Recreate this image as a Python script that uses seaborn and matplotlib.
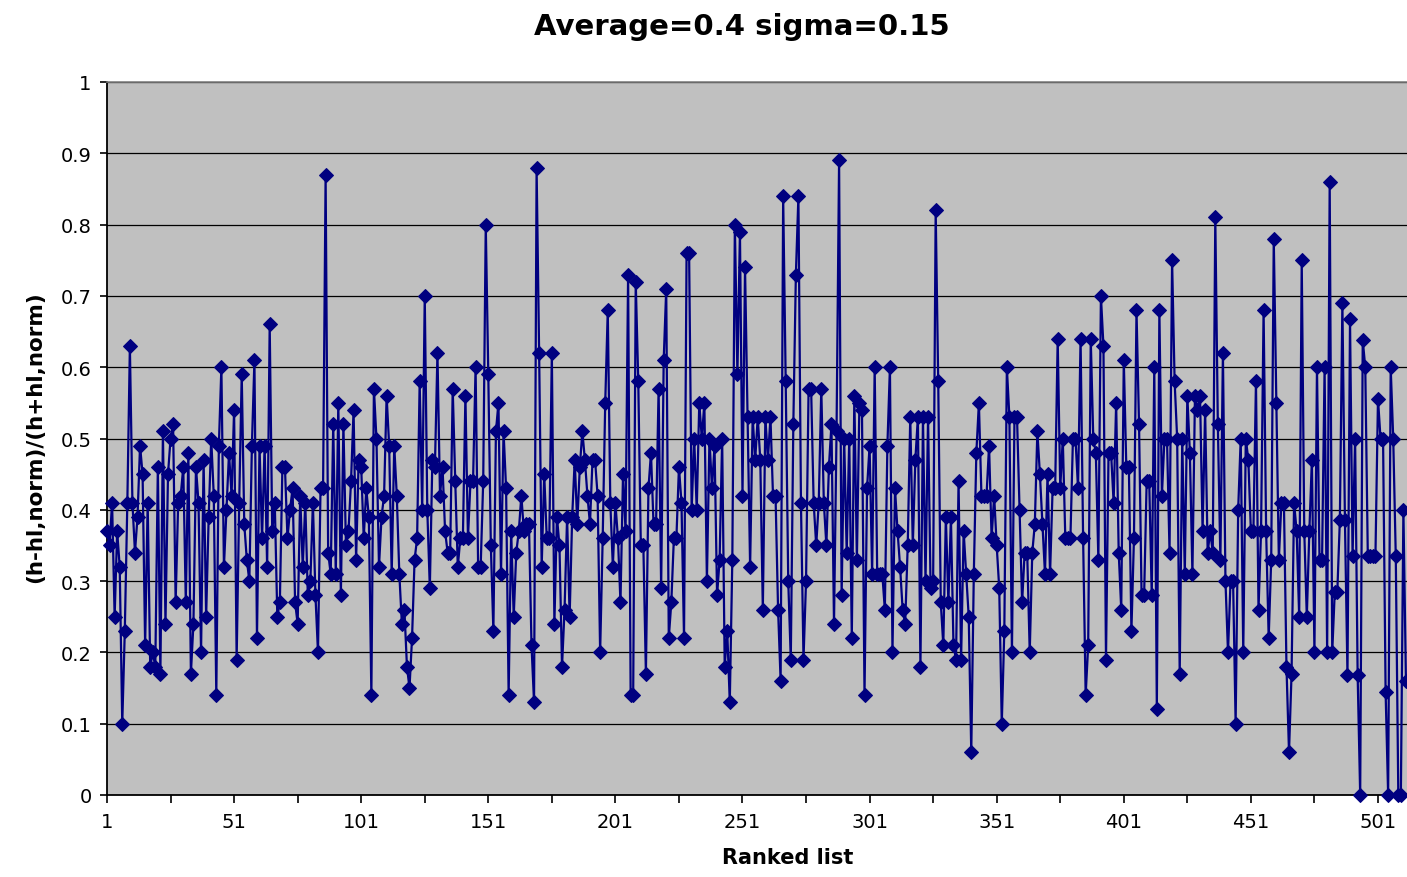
import numpy as np
import matplotlib
matplotlib.use("Agg")
import matplotlib.pyplot as plt
import seaborn as sns
from matplotlib.ticker import FixedLocator, FuncFormatter

seg_a = [0.37, 0.35, 0.41, 0.25, 0.37, 0.32, 0.10, 0.23, 0.41, 0.63,
         0.41, 0.34, 0.39, 0.49, 0.45, 0.21, 0.41, 0.18, 0.20, 0.18,
         0.46, 0.17, 0.51, 0.24, 0.45, 0.50, 0.52, 0.27, 0.41, 0.42,
         0.46, 0.27, 0.48, 0.17, 0.24, 0.46, 0.41]
seg_b = [0.20, 0.47, 0.25, 0.39, 0.50, 0.42, 0.14, 0.49, 0.60, 0.32,
         0.40, 0.48, 0.42, 0.54, 0.19, 0.41, 0.59, 0.38, 0.33, 0.30,
         0.49, 0.61, 0.22, 0.49, 0.36, 0.49, 0.32, 0.66, 0.37, 0.41,
         0.25, 0.27, 0.46, 0.46, 0.36, 0.40, 0.43, 0.27, 0.24, 0.42]
seg_c = [0.32, 0.41, 0.28, 0.30, 0.41, 0.28, 0.20, 0.43, 0.43, 0.87,
         0.34, 0.31, 0.52, 0.31, 0.55, 0.28, 0.52, 0.35, 0.37, 0.44,
         0.54, 0.33, 0.47, 0.46, 0.36, 0.43, 0.39, 0.14, 0.57, 0.50,
         0.32, 0.39, 0.42, 0.56, 0.49, 0.31, 0.49, 0.42, 0.31]
seg_d = [0.24, 0.26, 0.18, 0.15, 0.22, 0.33, 0.36, 0.58, 0.40, 0.70,
         0.40, 0.29, 0.47, 0.46, 0.62, 0.42, 0.46, 0.37, 0.34, 0.34,
         0.57, 0.44, 0.32, 0.36, 0.36, 0.56, 0.36, 0.44, 0.44, 0.60,
         0.32, 0.32, 0.44, 0.80, 0.59, 0.35, 0.23, 0.51, 0.55, 0.31]
seg_e = [0.51, 0.43, 0.14, 0.37, 0.25, 0.34, 0.37, 0.42, 0.37, 0.38,
         0.38, 0.21, 0.13, 0.88, 0.62, 0.32, 0.45, 0.36, 0.36, 0.62,
         0.24, 0.39, 0.35, 0.18, 0.26, 0.39, 0.25, 0.39, 0.47, 0.38,
         0.46, 0.51, 0.47, 0.42, 0.38, 0.47, 0.47, 0.42, 0.20]
seg_f = [0.36, 0.55, 0.68, 0.41, 0.32, 0.41, 0.36, 0.27, 0.45, 0.37,
         0.73, 0.14, 0.14, 0.72, 0.58, 0.35, 0.35, 0.17, 0.43, 0.48,
         0.38, 0.38, 0.57, 0.29, 0.61, 0.71, 0.22, 0.27, 0.36, 0.36,
         0.46, 0.41, 0.22, 0.76, 0.76, 0.40, 0.50, 0.40, 0.55]
seg_g = [0.50, 0.55, 0.30, 0.50, 0.43, 0.49, 0.28, 0.33, 0.50, 0.18,
         0.23, 0.13, 0.33, 0.80, 0.59, 0.79, 0.42, 0.74, 0.53, 0.32,
         0.53, 0.47, 0.53, 0.47, 0.26, 0.53, 0.47, 0.53, 0.42, 0.42,
         0.26, 0.16, 0.84, 0.58, 0.30, 0.19, 0.52, 0.73, 0.84, 0.41]
seg_h = [0.19, 0.30, 0.57, 0.57, 0.41, 0.35, 0.41, 0.57, 0.41, 0.35,
         0.46, 0.52, 0.24, 0.51, 0.89, 0.28, 0.50, 0.34, 0.50, 0.22,
         0.56, 0.33, 0.55, 0.54, 0.14, 0.43, 0.49, 0.31, 0.60, 0.31,
         0.31, 0.31, 0.26, 0.49, 0.60, 0.20, 0.43, 0.37, 0.32]
seg_i = [0.26, 0.24, 0.35, 0.53, 0.35, 0.47, 0.53, 0.18, 0.53, 0.30,
         0.53, 0.29, 0.30, 0.82, 0.58, 0.27, 0.21, 0.39, 0.27, 0.39,
         0.21, 0.19, 0.44, 0.19, 0.37, 0.31, 0.25, 0.06, 0.31, 0.48,
         0.55, 0.42, 0.42, 0.42, 0.49, 0.36, 0.42, 0.35, 0.29]
seg_j = [0.10, 0.23, 0.60, 0.53, 0.20, 0.53, 0.53, 0.40, 0.27, 0.34,
         0.34, 0.20, 0.34, 0.38, 0.51, 0.45, 0.38, 0.31, 0.45, 0.31,
         0.43, 0.43, 0.64, 0.43, 0.50, 0.36, 0.36, 0.36, 0.50, 0.50,
         0.43, 0.64, 0.36, 0.14, 0.21, 0.64, 0.50, 0.48, 0.33, 0.70]
seg_k = [0.63, 0.19, 0.48, 0.48, 0.41, 0.55, 0.34, 0.26, 0.61, 0.46,
         0.46, 0.23, 0.36, 0.68, 0.52, 0.28, 0.28, 0.44, 0.44,
         0.28, 0.60, 0.12, 0.68, 0.42, 0.50, 0.50, 0.34, 0.75, 0.58,
         0.50, 0.17, 0.50, 0.31, 0.56, 0.48, 0.31, 0.56, 0.54, 0.56]
seg_l = [0.37, 0.54, 0.34, 0.37, 0.34, 0.81, 0.52, 0.33, 0.62, 0.30,
         0.20, 0.30, 0.30, 0.10, 0.40, 0.50, 0.20, 0.50, 0.47, 0.37,
         0.37, 0.58, 0.26, 0.37, 0.68, 0.37, 0.22, 0.33, 0.78,
         0.55, 0.33, 0.41, 0.41, 0.18, 0.06, 0.17, 0.41, 0.37, 0.25]
seg_m = [0.75, 0.37, 0.25, 0.37, 0.47, 0.20, 0.60, 0.33, 0.33,
         0.60, 0.20, 0.86, 0.20, 0.285, 0.285, 0.385, 0.69, 0.385, 0.168,
         0.667, 0.335, 0.50, 0.168, 0.0, 0.638, 0.60, 0.335, 0.335, 0.335,
         0.335, 0.556, 0.50, 0.50, 0.144, 0.0, 0.60, 0.50, 0.335, 0.0,
         0.0, 0.40, 0.16]

values = (seg_a + seg_b + seg_c + seg_d + seg_e + seg_f + seg_g
          + seg_h + seg_i + seg_j + seg_k + seg_l + seg_m)
ranks = np.arange(1, len(values) + 1)

x_labels = [1, 51, 101, 151, 201, 251, 301, 351, 401, 451, 501]
x_minor = [26, 76, 126, 176, 226, 276, 326, 376, 426, 476]
y_ticks = [0, 0.1, 0.2, 0.3, 0.4, 0.5, 0.6, 0.7, 0.8, 0.9, 1.0]

title = "Average=0.4 sigma=0.15"
xlabel = "Ranked list"
ylabel = "(h-hl,norm)/(h+hl,norm)"

navy = "#000080"

fig = plt.figure(figsize=(14.07, 8.78), dpi=100)
ax = fig.add_axes([107 / 1407, 1 - 796 / 878, 1300 / 1407, 713 / 878])
ax.set_facecolor("#C0C0C0")

sns.lineplot(x=ranks, y=values, ax=ax, color=navy, linewidth=1.6,
             marker="D", markersize=7.5, markeredgecolor=navy,
             markerfacecolor=navy, clip_on=False, zorder=3)

ax.set_xlim(1, 1 + (1407 - 108) / 2.54)
ax.set_ylim(0, 1)

ax.yaxis.set_major_locator(FixedLocator(y_ticks))
ax.yaxis.set_major_formatter(FuncFormatter(lambda v, p: f"{v:g}"))
ax.xaxis.set_major_locator(FixedLocator(x_labels))
ax.xaxis.set_minor_locator(FixedLocator(x_minor))
ax.set_xticklabels([str(v) for v in x_labels])

ax.grid(axis="y", color="black", linewidth=0.9)
ax.grid(axis="x", visible=False)
ax.set_axisbelow(True)

for side in ["left", "bottom"]:
    ax.spines[side].set_color("black")
    ax.spines[side].set_linewidth(1.3)
ax.spines["top"].set_color("#808080")
ax.spines["top"].set_linewidth(1.2)
ax.spines["right"].set_visible(False)

ax.tick_params(axis="both", which="both", direction="out", color="black",
               length=6, width=1.2, labelsize=14, pad=6)
ax.tick_params(axis="y", length=5)

ax.set_xlabel("")
ax.set_ylabel("")
fig.text(742 / 1407, 1 - 27 / 878, title, ha="center", va="center",
         fontsize=21, fontweight="bold")
fig.text(788 / 1407, 1 - 858 / 878, xlabel, ha="center", va="center",
         fontsize=15, fontweight="bold")
fig.text(35 / 1407, 1 - 437 / 878, ylabel, ha="center", va="center",
         rotation=90, fontsize=15.5, fontweight="bold")

fig.savefig("out.png", dpi=100)
